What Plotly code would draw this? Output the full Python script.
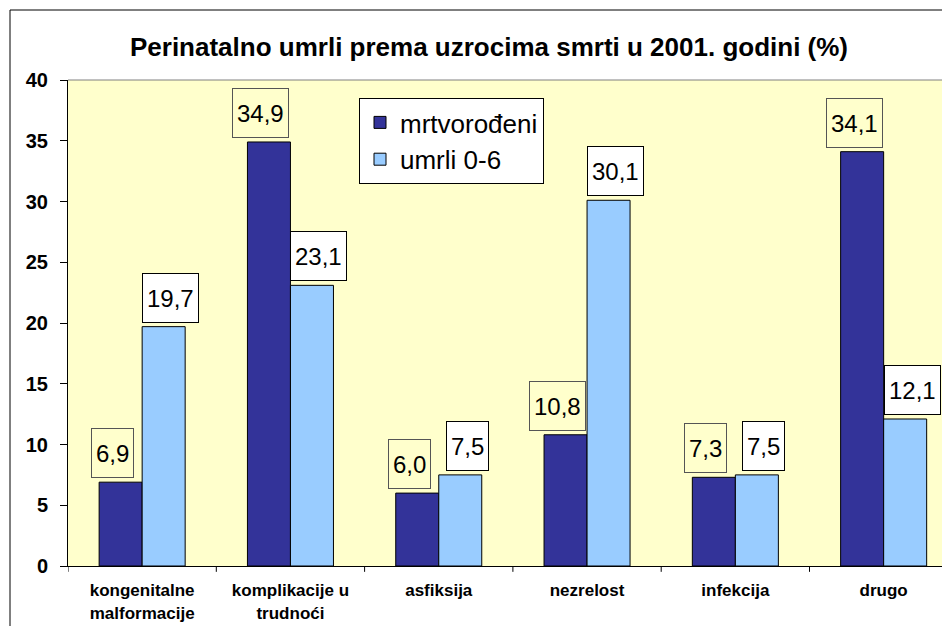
import plotly.graph_objects as go

categories = ["kongenitalne<br>malformacije", "komplikacije u<br>trudnoći", "asfiksija",
              "nezrelost", "infekcija", "drugo"]
mrtvorodeni = [6.9, 34.9, 6.0, 10.8, 7.3, 34.1]
umrli_0_6 = [19.7, 23.1, 7.5, 30.1, 7.5, 12.1]
series_names = ["mrtvorođeni", "umrli 0-6"]
y_ticks = [0, 5, 10, 15, 20, 25, 30, 35, 40]

DARK = "#333399"
LIGHT = "#99CCFF"
BG = "#FFFFCC"
FONT = "Arial, Liberation Sans"

fig = go.Figure()
fig.add_trace(go.Bar(x=list(range(len(categories))), y=mrtvorodeni, name=series_names[0],
                     marker=dict(color=DARK, line=dict(color="black", width=1))))
fig.add_trace(go.Bar(x=list(range(len(categories))), y=umrli_0_6, name=series_names[1],
                     marker=dict(color=LIGHT, line=dict(color="black", width=1))))

def fmt(v):
    return f"{v:.1f}".replace(".", ",")

ann = []
for i, (a, b) in enumerate(zip(mrtvorodeni, umrli_0_6)):
    ann.append(dict(x=i - 0.145, y=a, xref="x", yref="y", text=fmt(a), showarrow=False,
                    yanchor="bottom", yshift=4, xshift=-8, height=40,
                    font=dict(family=FONT, size=24, color="black"),
                    bgcolor=BG, bordercolor="#555555", borderwidth=1, borderpad=4))
    ann.append(dict(x=i + 0.145, y=b, xref="x", yref="y", text=fmt(b), showarrow=False,
                    yanchor="bottom", yshift=4, xshift=7, height=40,
                    font=dict(family=FONT, size=24, color="black"),
                    bgcolor="white", bordercolor="black", borderwidth=1, borderpad=4))

fig.update_layout(
    width=942, height=618,
    margin=dict(l=60, r=0, t=72, b=60),
    paper_bgcolor="white", plot_bgcolor=BG,
    barmode="group", bargap=0.42, bargroupgap=0,
    font=dict(family=FONT, color="black"),
    title=dict(text="<b>Perinatalno umrli prema uzrocima smrti u 2001. godini (%)</b>",
               x=(489 - 68) / 882, xref="paper", y=0.937, yref="container",
               xanchor="center", yanchor="middle",
               font=dict(size=26, family=FONT, color="black")),
    showlegend=True,
    legend=dict(x=(359 - 68) / 882, y=1 + (80 - 98) / 486, xanchor="left", yanchor="top",
                bgcolor="white", bordercolor="black", borderwidth=1,
                font=dict(size=26, family=FONT),
                traceorder="normal", itemwidth=30, tracegroupgap=0),
    annotations=ann,
    xaxis=dict(tickmode="array", tickvals=list(range(len(categories))),
               ticktext=[f"<b>{c}</b>" for c in categories],
               range=[-0.5, -0.5 + 882 / 148.3], showgrid=False,
               showline=True, linecolor="black", linewidth=1,
               ticks="", ticklabelstandoff=9,
               tickfont=dict(size=17, family=FONT), zeroline=False),
    yaxis=dict(range=[0, 40], tickvals=y_ticks, ticktext=[f"<b>{t}</b>" for t in y_ticks],
               showgrid=False, showline=True, linecolor="black", linewidth=1,
               ticks="outside", ticklen=7, tickcolor="black", ticklabelstandoff=8,
               tickfont=dict(size=20, family=FONT), zeroline=False),
)

# category separator tick marks on the x axis
shapes = []
for k in range(len(categories)):
    shapes.append(dict(type="line", xref="x", yref="paper", x0=k - 0.5, x1=k - 0.5,
                       y0=0, y1=-0.012, line=dict(color="black", width=1)))
# top frame of plot area
shapes.append(dict(type="line", xref="paper", yref="paper", x0=0, x1=1, y0=1, y1=1,
                   line=dict(color="#808080", width=1)))
# outer chart border (left and top)
shapes.append(dict(type="line", xref="paper", yref="paper", x0=-58 / 882, x1=-58 / 882,
                   y0=1 + 70 / 486, y1=-0.2, line=dict(color="black", width=1)))
shapes.append(dict(type="line", xref="paper", yref="paper", x0=-58 / 882, x1=1.1,
                   y0=1 + 70 / 486, y1=1 + 70 / 486, line=dict(color="black", width=1)))
fig.update_layout(shapes=shapes)

fig.write_html("out.html")
